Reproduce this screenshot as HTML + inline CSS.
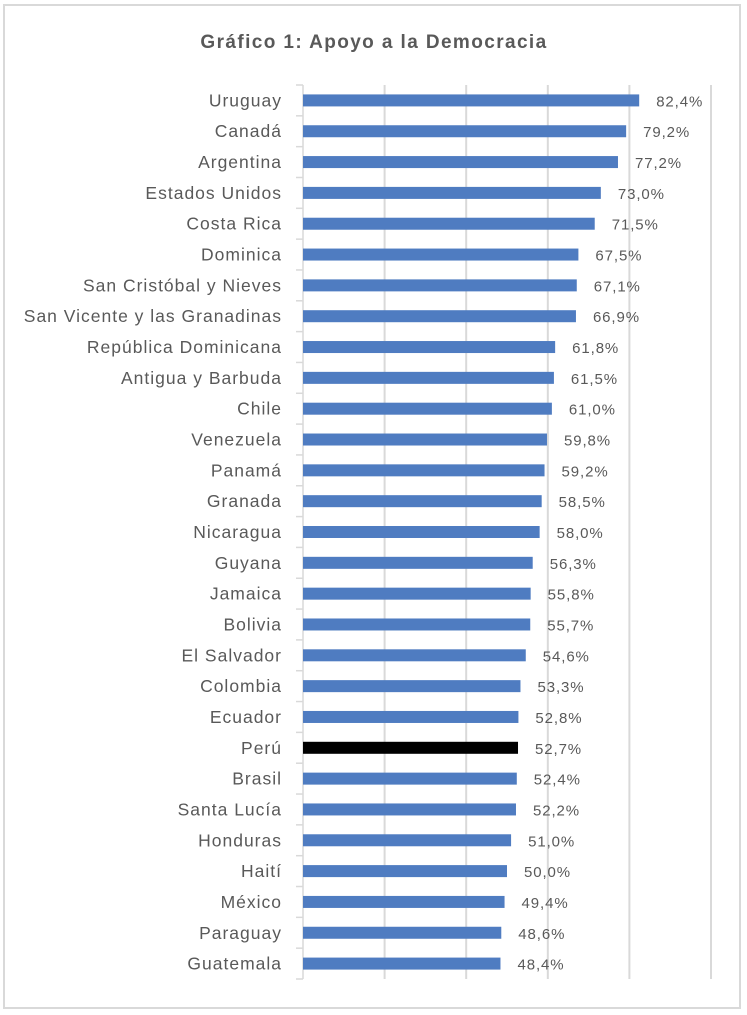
<!DOCTYPE html>
<html><head><meta charset="utf-8"><style>
body{margin:0;background:#fff;}
svg{display:block;font-family:"Liberation Sans",sans-serif;}
</style></head><body>
<svg id="c" width="747" height="1015">
<rect x="4" y="5" width="736" height="1003" fill="#fff" stroke="#d9d9d9" stroke-width="2"/>
<text x="374" y="48" text-anchor="middle" font-size="19" letter-spacing="1.4" font-weight="bold" fill="#595959">Gráfico 1: Apoyo a la Democracia</text>
<g id="grid"></g><g id="bars"></g>
</svg>
<script>
const categories=["Uruguay","Canadá","Argentina","Estados Unidos","Costa Rica","Dominica","San Cristóbal y Nieves","San Vicente y las Granadinas","República Dominicana","Antigua y Barbuda","Chile","Venezuela","Panamá","Granada","Nicaragua","Guyana","Jamaica","Bolivia","El Salvador","Colombia","Ecuador","Perú","Brasil","Santa Lucía","Honduras","Haití","México","Paraguay","Guatemala"];
const values=[82.4,79.2,77.2,73.0,71.5,67.5,67.1,66.9,61.8,61.5,61.0,59.8,59.2,58.5,58.0,56.3,55.8,55.7,54.6,53.3,52.8,52.7,52.4,52.2,51.0,50.0,49.4,48.6,48.4];
const highlight=["Perú"];
const gridTicks=[0,20,40,60,80,100];
{
const NS="http://www.w3.org/2000/svg";
const x0=303,x1=711,yTop=85,yBottom=979;
const xs=v=>x0+(x1-x0)*v/100;
const band=(yBottom-yTop)/categories.length;
const yc=i=>yTop+band*(i+0.5);
function mk(t,a,p){const e=document.createElementNS(NS,t);for(const k in a)e.setAttribute(k,a[k]);p.appendChild(e);return e;}
const g=document.getElementById('grid'),b=document.getElementById('bars');
gridTicks.forEach(t=>{if(t===0)return;
const l=mk('line',{x1:xs(t),x2:xs(t),y1:yTop,y2:yBottom,stroke:'#d9d9d9','stroke-width':2},g);

});
const ax=mk('line',{x1:x0,x2:x0,y1:yTop,y2:yBottom,stroke:'#d9d9d9','stroke-width':1.5},g);


for(let i=0;i<=categories.length;i++){const tk=mk('line',{x1:x0-7,x2:x0,y1:yTop+band*i,y2:yTop+band*i,stroke:'#d9d9d9','stroke-width':1.5},g);

}
categories.forEach((c,i)=>{
const y=yc(i);
const r=mk('rect',{x:x0,y:y-6,width:xs(values[i])-x0,height:12,fill:highlight.includes(c)?'#000':'#4f7cc1'},b);


const lt=mk('text',{x:282,y:y+6,'text-anchor':'end','font-size':17.5,'letter-spacing':1,fill:'#595959'},b);lt.textContent=c;


const vt=mk('text',{x:xs(values[i])+17,y:y+6,'font-size':15,'letter-spacing':0.9,fill:'#595959'},b);vt.textContent=values[i].toFixed(1).replace('.',',')+'%';


});
}
</script>
</body></html>
